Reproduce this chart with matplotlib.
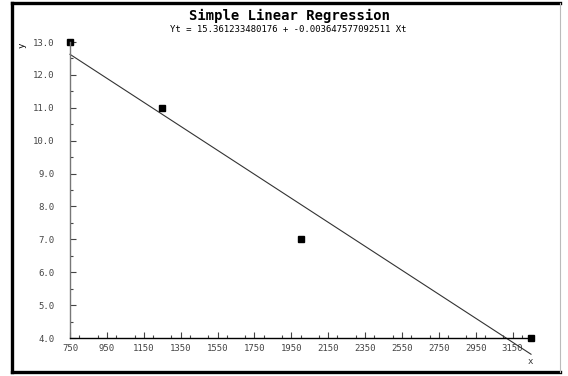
import numpy as np
import matplotlib
matplotlib.use('Agg')
import matplotlib.pyplot as plt
from matplotlib.lines import Line2D
from matplotlib.ticker import MultipleLocator

x_vals = [750, 1250, 2000, 3250]
y_vals = [13, 11, 7, 4]
intercept = 15.361233480176
slope = -0.003647577092511
x_ticks = [750, 950, 1150, 1350, 1550, 1750, 1950, 2150, 2350, 2550, 2750, 2950, 3150]
y_ticks = [4.0, 5.0, 6.0, 7.0, 8.0, 9.0, 10.0, 11.0, 12.0, 13.0]

mono = 'DejaVu Sans Mono'
W, H = 568, 376

fig = plt.figure(figsize=(5.68, 3.76), dpi=100)
fig.patch.set_facecolor('white')

# frame round the whole picture: heavy on left, top, bottom; faint on the right
L, R, T, B = 12/W, 560/W, 1 - 3/H, 1 - 372/H
fig.add_artist(Line2D([L, L], [B, T], transform=fig.transFigure, color='black', lw=2.4))
fig.add_artist(Line2D([L, R], [T, T], transform=fig.transFigure, color='black', lw=2.4))
fig.add_artist(Line2D([L, R], [B, B], transform=fig.transFigure, color='black', lw=2.4))
fig.add_artist(Line2D([R, R], [B, T], transform=fig.transFigure, color='#bbbbbb', lw=0.8))

ax = fig.add_axes([70/W, 38/H, 461/W, 296/H])
ax.set_xlim(750, 3250)
ax.set_ylim(4, 13)

fit_x = np.array([x_vals[0], x_vals[-1]])
ax.plot(fit_x, intercept + slope * fit_x, color='#333333', lw=0.8, clip_on=False)
ax.plot(x_vals, y_vals, 's', color='black', markersize=5, clip_on=False)

for s in ['top', 'right']:
    ax.spines[s].set_visible(False)
ax.spines['left'].set_color('#777777')
ax.spines['bottom'].set_color('black')
ax.spines['left'].set_linewidth(1.0)
ax.spines['bottom'].set_linewidth(1.0)

ax.set_xticks(x_ticks)
ax.set_xticklabels([str(t) for t in x_ticks], fontfamily=mono, fontsize=6.5, color='#444444')
ax.set_yticks(y_ticks)
ax.set_yticklabels(['%.1f' % t for t in y_ticks], fontfamily=mono, fontsize=6.5, color='#444444')
ax.xaxis.set_minor_locator(MultipleLocator(100))
ax.yaxis.set_minor_locator(MultipleLocator(0.5))
ax.tick_params(axis='both', which='major', direction='in', length=4, width=0.8, color='#444444')
ax.tick_params(axis='both', which='minor', direction='in', length=2.5, width=0.8, color='#444444')
ax.tick_params(axis='x', which='major', pad=4)
ax.tick_params(axis='y', which='major', pad=11)

fig.text(0.51, 1 - 16/H, 'Simple Linear Regression', ha='center', va='center',
         fontfamily=mono, fontsize=10, fontweight='bold')
fig.text(0.507, 1 - 30/H, 'Yt = %s + %s Xt' % ('15.361233480176', '-0.003647577092511'),
         ha='center', va='center', fontfamily=mono, fontsize=6.5)
fig.text(22/W, 1 - 45/H, 'y', rotation=90, ha='center', va='center',
         fontfamily=mono, fontsize=6.5)
fig.text(530/W, 1 - 362/H, 'x', ha='center', va='center',
         fontfamily=mono, fontsize=6.5, color='#333333')

fig.savefig('out.png', dpi=100)
